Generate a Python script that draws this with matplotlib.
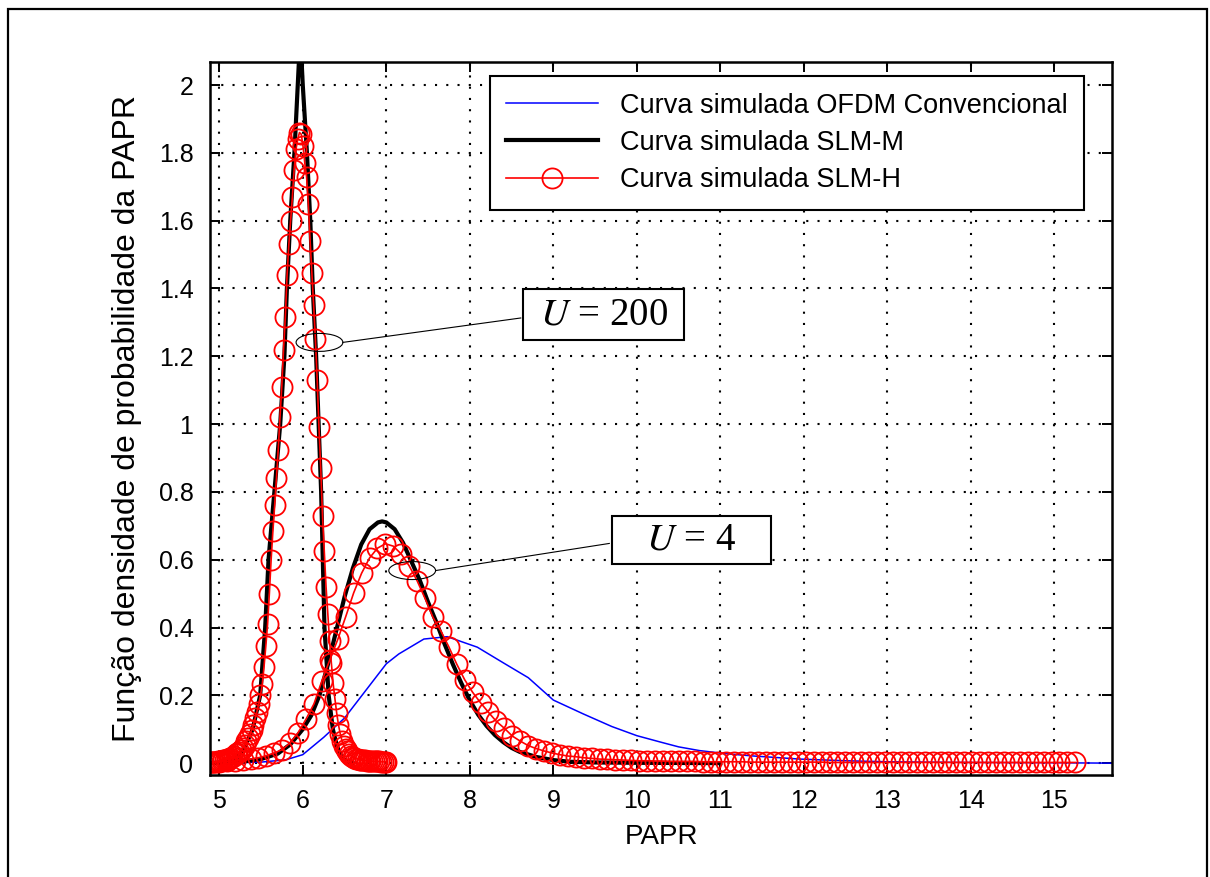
import matplotlib
matplotlib.use('Agg')
import matplotlib.pyplot as plt
import numpy as np
from matplotlib.patches import Ellipse, Rectangle
from matplotlib.ticker import FormatStrFormatter

plt.rcParams['font.family'] = ['Liberation Sans', 'DejaVu Sans']
plt.rcParams['mathtext.fontset'] = 'stix'

# OFDM convencional (blue)
ofdm_x = [4.9, 5.2, 5.5, 5.8, 6.0, 6.25, 6.5, 6.8, 7.0, 7.15, 7.45, 7.73, 8.09, 8.4,
          8.7, 9.0, 9.36, 9.7, 10.0, 10.3, 10.5, 10.75, 11.1, 11.4, 11.95, 12.5, 13.0,
          14.0, 15.0, 15.7]
ofdm_y = [0.0, 0.001, 0.003, 0.01, 0.025, 0.076, 0.133, 0.229, 0.293, 0.322, 0.366,
          0.373, 0.342, 0.296, 0.252, 0.186, 0.145, 0.108, 0.081, 0.061, 0.048, 0.037,
          0.027, 0.021, 0.012, 0.007, 0.004, 0.002, 0.001, 0.0]

# SLM-M (black), U = 200 and U = 4
slmm200_x = [4.9, 5.1, 5.2, 5.31, 5.4, 5.49, 5.55, 5.59, 5.66, 5.73, 5.78, 5.81, 5.85,
             5.9, 5.94, 5.97, 6.0, 6.05, 6.09, 6.12, 6.16, 6.19, 6.22, 6.24, 6.26, 6.31,
             6.36, 6.41, 6.47, 6.55, 6.6]
slmm200_y = [0.0, 0.004, 0.012, 0.05, 0.1, 0.2, 0.4, 0.6, 0.8, 1.0, 1.2, 1.4, 1.6, 1.8,
             2.0, 2.15, 2.0, 1.8, 1.6, 1.4, 1.2, 1.0, 0.8, 0.6, 0.4, 0.2, 0.1, 0.05,
             0.015, 0.003, 0.0]
slmm4_x = [4.9, 5.2, 5.5, 5.7, 5.85, 6.0, 6.1, 6.2, 6.3, 6.4, 6.5, 6.6, 6.7, 6.8, 6.9,
           6.95, 7.0, 7.1, 7.2, 7.3, 7.4, 7.5, 7.6, 7.7, 7.8, 7.9, 8.0, 8.1, 8.2, 8.3,
           8.4, 8.5, 8.6, 8.8, 9.0, 9.2, 9.5, 10.0, 11.0]
slmm4_y = [0.0, 0.002, 0.012, 0.028, 0.055, 0.10, 0.14, 0.20, 0.29, 0.39, 0.49, 0.575,
           0.645, 0.69, 0.71, 0.713, 0.71, 0.69, 0.65, 0.595, 0.54, 0.475, 0.415, 0.35,
           0.29, 0.235, 0.185, 0.143, 0.11, 0.083, 0.062, 0.045, 0.033, 0.018, 0.009,
           0.004, 0.002, 0.001, 0.0]

# SLM-H (red circles), U = 200: 100 samples from 4.9 to 7.0
slmh200_range = (4.9, 7.0, 100)
slmh200_y = [
    0.002, 0.003, 0.003, 0.004, 0.005, 0.005, 0.007, 0.008, 0.010, 0.011,
    0.013, 0.016, 0.019, 0.022, 0.026, 0.030, 0.034, 0.039, 0.046, 0.053,
    0.064, 0.073, 0.085, 0.098, 0.113, 0.132, 0.152, 0.175, 0.200, 0.232,
    0.285, 0.345, 0.41, 0.50, 0.60, 0.685, 0.76, 0.84, 0.925, 1.02,
    1.11, 1.22, 1.315, 1.44, 1.53, 1.60, 1.67, 1.75, 1.81, 1.84,
    1.86, 1.855, 1.82, 1.77, 1.73, 1.65, 1.54, 1.445, 1.35, 1.25,
    1.13, 0.99, 0.87, 0.73, 0.625, 0.52, 0.44, 0.36, 0.295, 0.235,
    0.19, 0.148, 0.113, 0.087, 0.066, 0.052, 0.043, 0.035, 0.027, 0.022,
    0.018, 0.015, 0.013, 0.011, 0.010, 0.009, 0.008, 0.008, 0.007, 0.006,
    0.006, 0.006, 0.005, 0.005, 0.005, 0.005, 0.004, 0.004, 0.004, 0.004]

# SLM-H (red circles), U = 4: 110 samples from 4.9 to 15.25
slmh4_range = (4.9, 15.25, 110)
slmh4_y = [
    0.003, 0.004, 0.005, 0.007, 0.009, 0.012, 0.016, 0.022, 0.030, 0.040,
    0.060, 0.090, 0.130, 0.175, 0.243, 0.305, 0.365, 0.432, 0.502, 0.560,
    0.605, 0.634, 0.647, 0.640, 0.617, 0.582, 0.538, 0.486, 0.430, 0.390,
    0.343, 0.292, 0.246, 0.209, 0.178, 0.150, 0.123, 0.103, 0.080, 0.065,
    0.052, 0.043, 0.036, 0.030, 0.025, 0.021, 0.019, 0.016, 0.014, 0.012,
    0.011, 0.010, 0.009, 0.008, 0.007, 0.007, 0.006, 0.006, 0.005, 0.005,
    0.005, 0.005, 0.004, 0.004, 0.004, 0.004, 0.004, 0.004, 0.003, 0.003,
    0.003, 0.003, 0.003, 0.003, 0.003, 0.003, 0.003, 0.003, 0.002, 0.002,
    0.002, 0.002, 0.002, 0.002, 0.002, 0.002, 0.002, 0.002, 0.002, 0.002,
    0.002, 0.002, 0.002, 0.002, 0.002, 0.002, 0.002, 0.002, 0.002, 0.002,
    0.002, 0.002, 0.002, 0.002, 0.002, 0.002, 0.002, 0.002, 0.002, 0.002]

labels = ['Curva simulada OFDM Convencional', 'Curva simulada SLM-M', 'Curva simulada SLM-H']

slmh200_x = np.linspace(*slmh200_range)
slmh4_x = np.linspace(*slmh4_range)

fig = plt.figure(figsize=(12.1, 8.77), dpi=100)
ax = fig.add_axes([0.1736, 0.1163, 0.7455, 0.813])

red_kw = dict(color='red', lw=1.2, marker='o', markersize=14.5, markerfacecolor='none',
              markeredgewidth=1.3)
ax.plot(ofdm_x, ofdm_y, color='blue', lw=1.1, label=labels[0])
ax.plot(slmm200_x, slmm200_y, color='black', lw=3, label=labels[1])
ax.plot(slmm4_x, slmm4_y, color='black', lw=3)
ax.plot(slmh200_x, slmh200_y, label=labels[2], **red_kw)
ax.plot(slmh4_x, slmh4_y, **red_kw)

ax.set_xlim(4.89, 15.69)
ax.set_ylim(-0.035, 2.068)
ax.set_xticks(range(5, 16))
ax.set_yticks(np.arange(0, 2.01, 0.2))
ax.yaxis.set_major_formatter(FormatStrFormatter('%g'))
ax.tick_params(direction='in', length=7, width=1.4, labelsize=18, top=True, right=True)
ax.tick_params(axis='y', pad=12)
ax.tick_params(axis='x', pad=10)
for s in ax.spines.values():
    s.set_linewidth(1.8)
ax.grid(True, color='black', linestyle=(0, (1, 4.4)), linewidth=1.5)

ax.set_xlabel('PAPR', fontsize=20, labelpad=8)
ax.set_ylabel('Função densidade de probabilidade da PAPR', fontsize=23, labelpad=12)

leg = ax.legend(loc='upper left', bbox_to_anchor=(0.31, 0.98), borderaxespad=0,
                fontsize=19.5, frameon=True, fancybox=False, framealpha=1,
                edgecolor='black', handlelength=3.4, handletextpad=0.8,
                labelspacing=0.42, borderpad=0.6)
leg.get_frame().set_linewidth(1.5)

# annotations
for (ex, ey), (x0, y0, x1, y1), txt in [((6.20, 1.241), (8.64, 1.249, 10.57, 1.397), r'$U$ = 200'),
                                        ((7.31, 0.568), (9.70, 0.586, 11.61, 0.730), r'$U$ = 4')]:
    ax.add_patch(Ellipse((ex, ey), 0.56, 0.053, fill=False, edgecolor='black', lw=0.8, zorder=5))
    ax.plot([ex + 0.28, x0 - 0.03], [ey, (y0 + y1) / 2 - 0.01], color='black', lw=0.8, zorder=5)
    ax.add_patch(Rectangle((x0, y0), x1 - x0, y1 - y0, facecolor='white', edgecolor='black',
                           lw=1.5, zorder=6))
    ax.text((x0 + x1) / 2, (y0 + y1) / 2, txt, fontsize=28, ha='center', va='center', zorder=7,
            family='Liberation Serif')

fig.patches.append(Rectangle((0.0066, -0.05), 0.991, 1.0397, transform=fig.transFigure,
                             fill=False, edgecolor='black', lw=1.6))

fig.savefig('out.png', dpi=100)
